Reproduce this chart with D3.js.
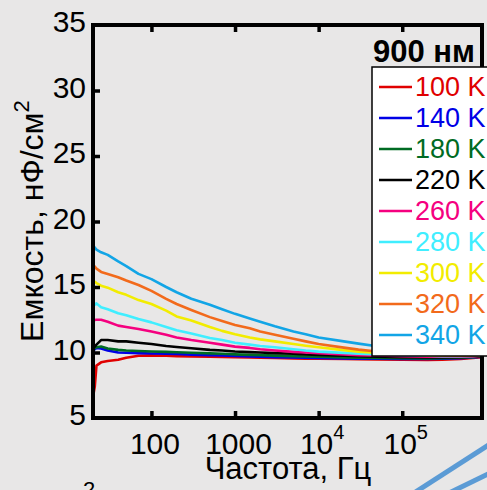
<!DOCTYPE html>
<html>
<head>
<meta charset="utf-8">
<script src="https://cdn.jsdelivr.net/npm/d3@7/dist/d3.min.js"></script>
<style>
  html, body { margin: 0; padding: 0; background: #e8e7e7; }
  svg { display: block; }
  text { font-family: "Liberation Sans", Arial, Helvetica, sans-serif; }
</style>
</head>
<body>
<script>
// Frequency grid (Hz) shared by every temperature curve
const freq = [20, 21, 22, 25, 30, 40, 50, 70, 100, 150, 200, 300, 500, 700, 1000, 1500, 2000, 3000,
              5000, 7000, 1e4, 2e4, 3e4, 5e4, 1e5, 2e5, 3e5, 5e5, 7e5, 9e5];

// Capacitance, nF/cm^2, one array per temperature
const c100 = [6.6, 7.4, 9.0, 9.25, 9.35, 9.45, 9.6, 9.75, 9.78, 9.75, 9.72, 9.7, 9.68, 9.66, 9.64, 9.62, 9.6, 9.58,
              9.55, 9.53, 9.52, 9.5, 9.48, 9.46, 9.45, 9.44, 9.45, 9.5, 9.58, 9.65];
const c140 = [10.1, 10.25, 10.35, 10.3, 10.15, 10.0, 9.98, 9.95, 9.92, 9.9, 9.88, 9.84, 9.8, 9.77, 9.74, 9.7, 9.68, 9.65,
              9.62, 9.6, 9.58, 9.55, 9.53, 9.52, 9.5, 9.5, 9.52, 9.56, 9.62, 9.68];
const c180 = [10.3, 10.35, 10.4, 10.45, 10.3, 10.2, 10.15, 10.12, 10.08, 10.05, 10.02, 9.98, 9.93, 9.9, 9.86, 9.82, 9.8, 9.76,
              9.72, 9.7, 9.68, 9.63, 9.6, 9.58, 9.56, 9.55, 9.56, 9.6, 9.65, 9.7];
const c220 = [10.3, 10.45, 10.6, 10.95, 10.95, 10.85, 10.85, 10.75, 10.65, 10.5, 10.42, 10.32, 10.2, 10.15, 10.08, 10.03, 10.0, 9.95,
              9.9, 9.85, 9.82, 9.75, 9.72, 9.68, 9.65, 9.62, 9.62, 9.64, 9.68, 9.72];
const c260 = [12.45, 12.48, 12.5, 12.5, 12.35, 12.05, 11.95, 11.8, 11.6, 11.35, 11.15, 10.95, 10.75, 10.6, 10.45, 10.35, 10.25, 10.15,
              10.05, 10.0, 9.95, 9.85, 9.8, 9.77, 9.72, 9.68, 9.67, 9.68, 9.7, 9.75];
const c280 = [13.5, 13.65, 13.75, 13.45, 13.3, 13.0, 12.85, 12.55, 12.3, 11.95, 11.7, 11.45, 11.1, 10.95, 10.75, 10.6, 10.5, 10.4,
              10.25, 10.15, 10.07, 9.97, 9.9, 9.85, 9.8, 9.75, 9.72, 9.72, 9.74, 9.78];
const c300 = [15.5, 15.4, 15.3, 15.1, 14.95, 14.6, 14.4, 14.0, 13.7, 13.2, 12.75, 12.45, 11.95, 11.65, 11.4, 11.15, 11.0, 10.85,
              10.65, 10.52, 10.4, 10.18, 10.07, 9.97, 9.87, 9.8, 9.77, 9.75, 9.76, 9.8];
const c320 = [16.7, 16.55, 16.4, 16.15, 16.0, 15.75, 15.5, 15.15, 14.7, 14.1, 13.7, 13.25, 12.7, 12.4, 12.1, 11.85, 11.6, 11.35,
              11.05, 10.85, 10.65, 10.37, 10.22, 10.08, 9.95, 9.85, 9.8, 9.78, 9.78, 9.8];
const c340 = [18.2, 18.0, 17.85, 17.65, 17.45, 16.95, 16.6, 16.0, 15.6, 15.0, 14.6, 14.1, 13.65, 13.3, 12.95, 12.6, 12.35, 12.0,
              11.6, 11.4, 11.15, 10.85, 10.68, 10.48, 10.2, 10.0, 9.9, 9.85, 9.82, 9.8];

const seriesNames = ["100 K", "140 K", "180 K", "220 K", "260 K", "280 K", "300 K", "320 K", "340 K"];
const seriesColors = ["#e00000", "#0000e6", "#006b23", "#000000", "#f5007f", "#40eeff", "#f2ec00", "#f26a1b", "#12a5e6"];
const seriesValues = [c100, c140, c180, c220, c260, c280, c300, c320, c340];

const yTicks = [5, 10, 15, 20, 25, 30, 35];
const xTicks = [100, 1000, 1e4, 1e5];
const xTickLabels = [["100", ""], ["1000", ""], ["10", "4"], ["10", "5"]];

const sampleLabel = "900 нм";
const xTitle = "Частота, Гц";
const yTitle = ["Емкость, нФ/см", "2"];

const W = 487, H = 490;
const plot = { left: 93, right: 482, top: 25, bottom: 418 };

const svg = d3.select("body").append("svg").attr("width", W).attr("height", H);
svg.append("rect").attr("width", W).attr("height", H).attr("fill", "#e8e7e7");

const x = d3.scaleLog().domain([20, 9e5]).range([plot.left, plot.right]);
const y = d3.scaleLinear().domain([5, 35]).range([plot.bottom, plot.top]);

svg.append("clipPath").attr("id", "plotClip")
  .append("rect")
  .attr("x", plot.left).attr("y", plot.top)
  .attr("width", plot.right - plot.left).attr("height", plot.bottom - plot.top);

// Curves
const line = d3.line().x(d => x(d[0])).y(d => y(d[1]));
const curves = svg.append("g").attr("clip-path", "url(#plotClip)");
seriesValues.forEach((vals, i) => {
  curves.append("path")
    .datum(freq.map((f, k) => [f, vals[k]]))
    .attr("d", line)
    .attr("fill", "none")
    .attr("stroke", seriesColors[i])
    .attr("stroke-width", 2.6)
    .attr("stroke-linejoin", "round");
});

// Y axis (inward ticks)
const yAxis = svg.append("g").attr("transform", `translate(${plot.left},0)`)
  .call(d3.axisLeft(y).tickValues(yTicks).tickSize(-7).tickPadding(12).tickFormat(d3.format("d")));
yAxis.select(".domain").remove();
yAxis.selectAll(".tick line").attr("stroke", "#000").attr("stroke-width", 3.5);
yAxis.selectAll(".tick").filter(d => d === 5 || d === 35).select("line").remove();
yAxis.selectAll(".tick text")
  .attr("font-size", 30).attr("fill", "#000").attr("dy", "0.22em").attr("x", -7);

// X axis (inward ticks, labels with superscript exponents)
const xAxis = svg.append("g").attr("transform", `translate(0,${plot.bottom})`)
  .call(d3.axisBottom(x).tickValues(xTicks).tickSize(-7).tickFormat(""));
xAxis.select(".domain").remove();
xAxis.selectAll(".tick line").attr("stroke", "#000").attr("stroke-width", 3.5);
xAxis.selectAll(".tick").each(function (d, i) {
  const t = d3.select(this).append("text")
    .attr("y", 36).attr("fill", "#000").attr("font-size", 30)
    .attr("text-anchor", "middle").attr("x", 3);
  t.append("tspan").text(xTickLabels[i][0]);
  if (xTickLabels[i][1]) {
    t.append("tspan").attr("font-size", 20).attr("dy", -15).text(xTickLabels[i][1]);
  }
});

// Top axis ticks, no labels
const topAxis = svg.append("g").attr("transform", `translate(0,${plot.top})`)
  .call(d3.axisTop(x).tickValues(xTicks).tickSize(-7).tickFormat(""));
topAxis.select(".domain").remove();
topAxis.selectAll(".tick line").attr("stroke", "#000").attr("stroke-width", 3.5);

// Frame
svg.append("rect")
  .attr("x", plot.left).attr("y", plot.top)
  .attr("width", plot.right - plot.left).attr("height", plot.bottom - plot.top)
  .attr("fill", "none").attr("stroke", "#000").attr("stroke-width", 4);

// Axis titles
svg.append("text")
  .attr("x", 288).attr("y", 479)
  .attr("text-anchor", "middle").attr("font-size", 31).attr("fill", "#000")
  .text(xTitle);

const yt = svg.append("text")
  .attr("transform", "translate(43,221) rotate(-90)")
  .attr("text-anchor", "middle").attr("font-size", 32).attr("fill", "#000");
yt.append("tspan").text(yTitle[0]);
yt.append("tspan").attr("font-size", 22).attr("dy", -14).text(yTitle[1]);

// Sample label
svg.append("text")
  .attr("x", 475).attr("y", 62)
  .attr("text-anchor", "end").attr("font-size", 31).attr("font-weight", "bold").attr("fill", "#000")
  .text(sampleLabel);

// Legend
const legend = svg.append("g");
legend.append("rect")
  .attr("x", 372).attr("y", 67).attr("width", 140).attr("height", 289)
  .attr("fill", "#fff").attr("stroke", "#000").attr("stroke-width", 1.5);
const rowY = d3.scaleLinear().domain([0, seriesNames.length - 1]).range([87, 335]);
seriesNames.forEach((name, i) => {
  const yy = rowY(i);
  legend.append("line")
    .attr("x1", 379).attr("x2", 412).attr("y1", yy).attr("y2", yy)
    .attr("stroke", seriesColors[i]).attr("stroke-width", 2.4);
  legend.append("text")
    .attr("x", 415).attr("y", yy).attr("dy", "0.35em")
    .attr("font-size", 27).attr("fill", seriesColors[i])
    .text(name);
});

// Slide decorations around the figure
svg.append("text").attr("x", 89).attr("y", 497).attr("text-anchor", "middle")
  .attr("font-size", 22).attr("fill", "#000").text("2");
svg.append("line").attr("x1", 414).attr("y1", 493).attr("x2", 490).attr("y2", 444)
  .attr("stroke", "#5b9bd5").attr("stroke-width", 5);
svg.append("line").attr("x1", 447).attr("y1", 494).attr("x2", 490).attr("y2", 473)
  .attr("stroke", "#5b9bd5").attr("stroke-width", 5);
</script>
</body>
</html>
